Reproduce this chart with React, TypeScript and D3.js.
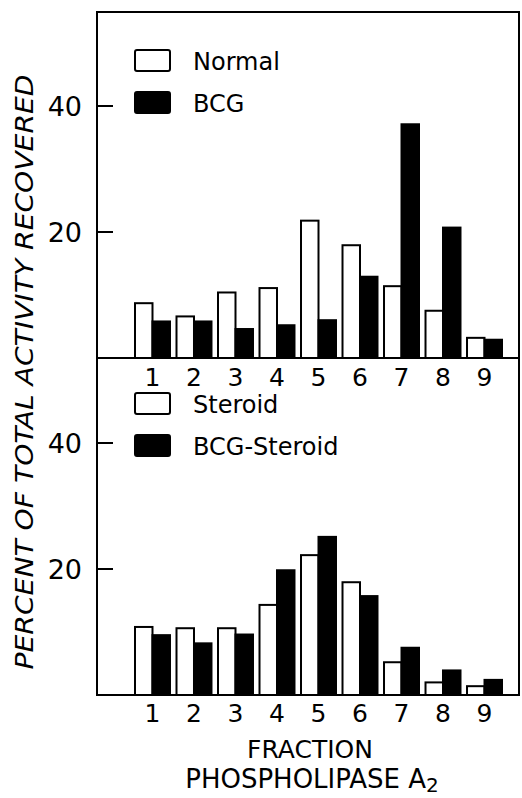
import React, { useRef, useEffect } from 'react';
import * as d3 from 'd3';

const fractions = ['1', '2', '3', '4', '5', '6', '7', '8', '9'];
const normal = [8.7, 6.6, 10.4, 11.1, 21.8, 17.9, 11.4, 7.5, 3.2];
const bcg = [5.8, 5.8, 4.6, 5.2, 6.0, 12.9, 37.1, 20.7, 2.9];
const steroid = [10.8, 10.6, 10.6, 14.3, 22.2, 17.9, 5.2, 2.0, 1.4];
const bcgSteroid = [9.5, 8.2, 9.6, 19.8, 25.1, 15.7, 7.5, 3.9, 2.4];
const yTicks = [20, 40];

const FONT = '"DejaVu Sans", sans-serif';

const App = () => {
  const svgRef = useRef(null);

  useEffect(() => {
    const svg = d3.select(svgRef.current);
    svg.selectAll('*').remove();

    const width = 522;
    const height = 798;
    const left = 97;
    const right = 519;
    const top = 12;
    const mid = 358;
    const bottom = 695;

    const x = d3.scaleBand()
      .domain(fractions)
      .range([135, 502])
      .paddingInner(0.157)
      .paddingOuter(0);

    const panels = [
      { a: normal, b: bcg, y: d3.scaleLinear().domain([0, 40]).range([mid, 106]),
        labels: ['Normal', 'BCG'], legendY: [50, 92], numY: 386 },
      { a: steroid, b: bcgSteroid, y: d3.scaleLinear().domain([0, 40]).range([bottom, 443]),
        labels: ['Steroid', 'BCG-Steroid'], legendY: [393, 435], numY: 722 }
    ];

    panels.forEach(p => {
      const g = svg.append('g');
      const bw = x.bandwidth() / 2;

      // bars
      [p.a, p.b].forEach((vals, si) => {
        g.selectAll(null)
          .data(vals)
          .enter()
          .append('rect')
          .attr('x', (d, i) => x(fractions[i]) + si * bw)
          .attr('y', d => p.y(d))
          .attr('width', bw)
          .attr('height', d => p.y(0) - p.y(d))
          .attr('fill', si === 0 ? '#fff' : '#000')
          .attr('stroke', '#000')
          .attr('stroke-width', 2);
      });

      // y ticks
      yTicks.forEach(t => {
        g.append('line')
          .attr('x1', left).attr('x2', left + 16)
          .attr('y1', p.y(t)).attr('y2', p.y(t))
          .attr('stroke', '#000').attr('stroke-width', 2);
        g.append('text')
          .attr('x', 82).attr('y', p.y(t) + 10)
          .attr('text-anchor', 'end')
          .attr('font-family', FONT).attr('font-size', 27)
          .text(t);
      });

      // fraction numbers
      fractions.forEach(f => {
        g.append('text')
          .attr('x', x(f) + x.bandwidth() / 2)
          .attr('y', p.numY)
          .attr('text-anchor', 'middle')
          .attr('font-family', FONT).attr('font-size', 25)
          .text(f);
      });

      // legend
      p.labels.forEach((lab, i) => {
        const ly = p.legendY[i];
        g.append('rect')
          .attr('x', 135).attr('y', ly)
          .attr('width', 35).attr('height', 21)
          .attr('rx', 2)
          .attr('fill', i === 0 ? '#fff' : '#000')
          .attr('stroke', '#000').attr('stroke-width', 2);
        g.append('text')
          .attr('x', 193).attr('y', ly + 20)
          .attr('font-family', FONT).attr('font-size', 24)
          .text(lab);
      });
    });

    // frames
    svg.append('rect')
      .attr('x', left).attr('y', top)
      .attr('width', right - left).attr('height', mid - top)
      .attr('fill', 'none').attr('stroke', '#000').attr('stroke-width', 2);
    svg.append('rect')
      .attr('x', left).attr('y', mid)
      .attr('width', right - left).attr('height', bottom - mid)
      .attr('fill', 'none').attr('stroke', '#000').attr('stroke-width', 2);

    // y axis label
    svg.append('text')
      .attr('transform', 'translate(33,372) rotate(-90)')
      .attr('text-anchor', 'middle')
      .attr('font-family', '"DejaVu Sans Condensed", "DejaVu Sans", sans-serif')
      .attr('font-style', 'italic')
      .attr('font-size', 25)
      .attr('textLength', 595)
      .attr('lengthAdjust', 'spacingAndGlyphs')
      .text('PERCENT OF TOTAL ACTIVITY RECOVERED');

    // x axis labels
    svg.append('text')
      .attr('x', 310).attr('y', 758)
      .attr('text-anchor', 'middle')
      .attr('font-family', FONT).attr('font-size', 25)
      .text('FRACTION');
    const ph = svg.append('text')
      .attr('x', 312).attr('y', 788)
      .attr('text-anchor', 'middle')
      .attr('font-family', FONT).attr('font-size', 26);
    ph.append('tspan').text('PHOSPHOLIPASE A');
    ph.append('tspan').attr('dy', 4).attr('font-size', 20).text('2');

    svg.attr('width', width).attr('height', height);
  }, []);

  return <svg ref={svgRef} style={{ position: 'absolute', left: 0, top: 0, background: '#fff' }}></svg>;
};

export default App;
